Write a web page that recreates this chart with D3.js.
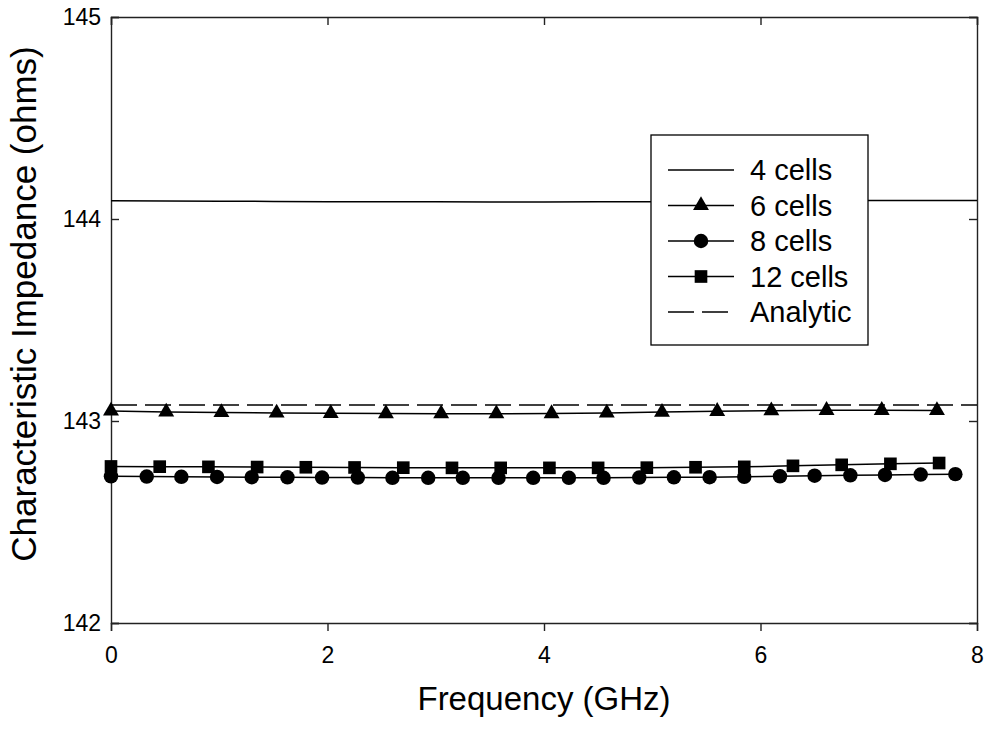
<!DOCTYPE html>
<html>
<head>
<meta charset="utf-8">
<script src="https://cdn.jsdelivr.net/npm/d3@7"></script>
<style>
  body { margin: 0; background: #fff; }
  svg { display: block; font-family: "Liberation Sans", Arial, sans-serif; }
  .axis path, .axis line { stroke: #222; stroke-width: 1.4; }
  .axis text { font-size: 23px; fill: #000; }
</style>
</head>
<body>
<svg id="chart" width="987" height="732"></svg>
<script>
// frequencies (GHz) for each series
const freq4 = [0, 0.5, 1, 1.5, 2, 2.5, 3, 3.5, 4, 4.5, 5, 5.5, 6, 6.5, 7, 7.5, 8];
const freq6 = [0, 0.51, 1.02, 1.53, 2.03, 2.54, 3.05, 3.56, 4.07, 4.58, 5.09, 5.6, 6.1, 6.61, 7.12, 7.63];
const freq8 = [0, 0.33, 0.65, 0.98, 1.3, 1.63, 1.95, 2.28, 2.6, 2.93, 3.25, 3.58, 3.9,
               4.23, 4.55, 4.88, 5.2, 5.53, 5.85, 6.18, 6.5, 6.83, 7.15, 7.48, 7.8];
const freq12 = [0, 0.45, 0.9, 1.35, 1.8, 2.25, 2.7, 3.15, 3.6, 4.05, 4.5, 4.95, 5.4,
                5.85, 6.3, 6.75, 7.2, 7.65];
const freqAnalytic = [0, 8];

// impedance values (ohms)
const z4 = [144.090, 144.089, 144.088, 144.087, 144.086, 144.085, 144.085, 144.084, 144.084,
            144.085, 144.086, 144.087, 144.089, 144.091, 144.092, 144.092, 144.091];
const z6 = [143.050, 143.045, 143.042, 143.040, 143.038, 143.037, 143.036, 143.036,
            143.037, 143.040, 143.044, 143.048, 143.051, 143.053, 143.053, 143.052];
const z8 = [142.726, 142.725, 142.724, 142.723, 142.722, 142.721, 142.720, 142.720, 142.719,
            142.719, 142.719, 142.719, 142.719, 142.719, 142.719, 142.720, 142.721, 142.722,
            142.724, 142.726, 142.729, 142.731, 142.733, 142.735, 142.737];
const z12 = [142.775, 142.774, 142.773, 142.772, 142.771, 142.770, 142.769, 142.768, 142.768,
             142.768, 142.768, 142.769, 142.771, 142.773, 142.778, 142.783, 142.788, 142.792];
const zAnalytic = [143.079, 143.079];

const seriesNames = ["4 cells", "6 cells", "8 cells", "12 cells", "Analytic"];
const xTicks = [0, 2, 4, 6, 8];
const yTicks = [142, 143, 144, 145];

const series = [
  { name: seriesNames[0], x: freq4, y: z4, marker: null, dash: null },
  { name: seriesNames[1], x: freq6, y: z6, marker: "triangle", dash: null },
  { name: seriesNames[2], x: freq8, y: z8, marker: "circle", dash: null },
  { name: seriesNames[3], x: freq12, y: z12, marker: "square", dash: null },
  { name: seriesNames[4], x: freqAnalytic, y: zAnalytic, marker: null, dash: "26,8" }
];

const margin = { left: 111, top: 17, right: 10, bottom: 109 };
const width = 987 - margin.left - margin.right;
const height = 732 - margin.top - margin.bottom;

const svg = d3.select("#chart");
const g = svg.append("g").attr("transform", `translate(${margin.left},${margin.top})`);

const x = d3.scaleLinear().domain([0, 8]).range([0, width]);
const y = d3.scaleLinear().domain([142, 145]).range([height, 0]);

// axes: bottom ticks point outward, the other three inward
g.append("g").attr("class", "axis")
  .attr("transform", `translate(0,${height})`)
  .call(d3.axisBottom(x).tickValues(xTicks).tickFormat(d3.format("d"))
    .tickSizeOuter(0).tickSize(8).tickPadding(16));
g.append("g").attr("class", "axis")
  .call(d3.axisLeft(y).tickValues(yTicks).tickFormat(d3.format("d"))
    .tickSizeOuter(0).tickSize(-8).tickPadding(10));
g.append("g").attr("class", "axis")
  .call(d3.axisTop(x).tickValues(xTicks).tickSizeOuter(0).tickSize(-8).tickFormat(""));
g.append("g").attr("class", "axis")
  .attr("transform", `translate(${width},0)`)
  .call(d3.axisRight(y).tickValues(yTicks).tickSizeOuter(0).tickSize(-8).tickFormat(""));

const symbols = {
  triangle: d3.symbol().type(d3.symbolTriangle).size(110),
  circle: d3.symbol().type(d3.symbolCircle).size(165),
  square: d3.symbol().type(d3.symbolSquare).size(160)
};

const line = d3.line().x(d => x(d[0])).y(d => y(d[1]));

series.forEach(s => {
  const pts = s.x.map((f, i) => [f, s.y[i]]);
  g.append("path")
    .datum(pts)
    .attr("fill", "none")
    .attr("stroke", "#000")
    .attr("stroke-width", 1.5)
    .attr("stroke-dasharray", s.dash)
    .attr("d", line);
  if (s.marker) {
    g.append("g").selectAll("path")
      .data(pts)
      .join("path")
        .attr("transform", d => `translate(${x(d[0])},${y(d[1])})`)
        .attr("d", symbols[s.marker])
        .attr("fill", "#000");
  }
});

// axis titles
svg.append("text")
  .attr("x", margin.left + width / 2)
  .attr("y", 710)
  .attr("text-anchor", "middle")
  .style("font-size", "33px")
  .text("Frequency (GHz)");

svg.append("text")
  .attr("transform", "translate(36,304) rotate(-90)")
  .attr("text-anchor", "middle")
  .style("font-size", "35px")
  .text("Characteristic Impedance (ohms)");

// legend
const legend = svg.append("g").attr("transform", "translate(651,135)");
legend.append("rect")
  .attr("width", 217).attr("height", 210)
  .attr("fill", "#fff").attr("stroke", "#000").attr("stroke-width", 1.3);

const rows = legend.selectAll("g.row")
  .data(series)
  .join("g")
    .attr("class", "row")
    .attr("transform", (d, i) => `translate(0,${35 + i * 35.5})`);

rows.append("line")
  .attr("x1", 17).attr("x2", 83)
  .attr("stroke", "#000").attr("stroke-width", 1.5)
  .attr("stroke-dasharray", d => d.dash);

rows.filter(d => d.marker)
  .append("path")
    .attr("transform", "translate(50,0)")
    .attr("d", d => symbols[d.marker]())
    .attr("fill", "#000");

rows.append("text")
  .attr("x", 99)
  .attr("dy", "0.35em")
  .style("font-size", "29px")
  .text(d => d.name);
</script>
</body>
</html>
